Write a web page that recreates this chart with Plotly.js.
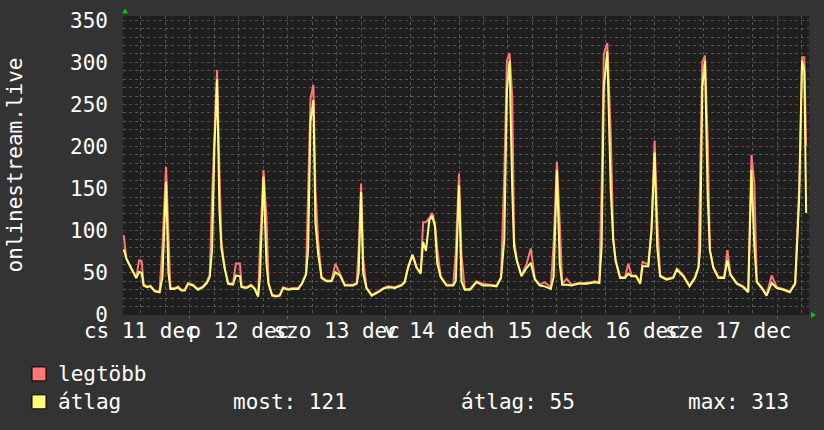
<!DOCTYPE html>
<html>
<head>
<meta charset="utf-8">
<script src="https://cdn.plot.ly/plotly-3.0.1.min.js"></script>
<style>
  html, body { margin: 0; padding: 0; background: #333333; }
  #chart { width: 824px; height: 430px; }
</style>
</head>
<body>
<div id="chart"></div>
<script>
// Hours since 11 Dec 00:00
var hours = [
  7.8, 8.46, 9.27, 10.1, 10.9, 11.55, 12.2, 12.7, 13.5, 14.35,
  15.4, 16.6, 17.3, 18.18, 18.76, 19.25, 20.3, 21.1, 21.95, 22.76,
  23.57, 24.8, 26.0, 27.25, 28.2, 28.9, 29.46, 30.05, 30.69, 31.27,
  31.76, 32.57, 33.4, 34.6, 35.3, 36.3, 36.7, 37.9, 39.0, 39.9,
  40.75, 41.2, 42.07, 42.8, 43.3, 44.2, 45.25, 46.06, 46.9, 48.1,
  49.3, 50.6, 51.5, 52.5, 53.0, 53.6, 54.3, 54.8, 55.46, 56.3,
  57.5, 58.75, 59.7, 60.8, 62.0, 63.2, 64.0, 64.9, 65.4, 66.0,
  66.5, 67.3, 68.6, 70.2, 71.4, 72.6, 74.3, 75.9, 76.7, 77.5,
  78.6, 79.6, 80.6, 81.2, 81.9, 82.7, 83.4, 84.1, 84.65, 85.5,
  86.95, 88.6, 89.2, 90.0, 90.6, 91.4, 92.7, 94.3, 95.9, 97.6,
  99.2, 100.3, 101.1, 101.75, 102.4, 103.05, 103.5, 104.2, 105.3, 106.6,
  107.6, 108.6, 109.8, 111.0, 112.5, 113.2, 114.0, 114.7, 115.3, 116.4,
  117.6, 119.2, 121.3, 123.3, 124.4, 124.97, 125.5, 126.35, 127.2, 127.8,
  128.4, 129.5, 130.7, 131.5, 132.3, 133.4, 134.4, 135.0, 136.4, 137.2,
  137.95, 138.6, 139.3, 140.9, 142.5, 143.4, 145.0, 146.5, 147.85, 148.7,
  149.1, 149.65, 150.3, 150.97, 151.5, 152.35, 153.6, 155.0, 155.8, 156.5,
  158.1, 159.7, 160.9, 161.7, 162.4, 163.0, 164.2, 165.4, 166.65, 167.9,
  169.5, 171.1, 172.4, 172.85, 173.4, 174.1, 174.65, 175.1
];

var legtobb = [
  95, 67, 59, 51, 44, 65, 64, 36, 34, 35,
  29, 28, 81, 176, 85, 32, 32, 34, 30, 30,
  38, 36, 31, 34, 40, 48, 140, 210, 291, 170,
  87, 55, 38, 37, 61, 61, 34, 33, 36, 32,
  22, 79, 172, 116, 38, 24, 23, 24, 33, 31,
  32, 32, 38, 49, 136, 257, 273, 148, 89, 45,
  41, 41, 61, 48, 36, 36, 36, 38, 77, 156,
  67, 33, 24, 28, 32, 34, 33, 36, 40, 57,
  72, 57, 50, 110, 110, 115, 121, 109, 79, 46,
  36, 36, 73, 168, 72, 31, 31, 40, 37, 36,
  35, 45, 164, 302, 311, 259, 89, 65, 47, 61,
  79, 43, 36, 39, 33, 85, 182, 109, 37, 43,
  36, 38, 38, 40, 39, 152, 310, 323, 215, 93,
  65, 45, 45, 61, 47, 47, 38, 63, 60, 105,
  207, 112, 47, 43, 45, 55, 47, 35, 45, 57,
  146, 300, 308, 207, 77, 57, 45, 45, 77, 49,
  38, 34, 28, 190, 156, 40, 33, 24, 47, 33,
  31, 28, 38, 82, 152, 306, 306, 201
];

var atlag = [
  78, 67, 59, 51, 44, 51, 50, 35, 33, 34,
  28, 27, 45, 158, 50, 31, 31, 33, 29, 29,
  37, 35, 30, 33, 38, 45, 77, 200, 280, 124,
  79, 55, 37, 36, 47, 46, 33, 32, 35, 31,
  22, 45, 164, 61, 37, 23, 22, 23, 32, 30,
  31, 31, 37, 48, 77, 230, 255, 110, 73, 44,
  40, 40, 51, 47, 35, 35, 35, 37, 50, 146,
  50, 32, 23, 27, 31, 33, 32, 35, 39, 56,
  71, 56, 49, 87, 76, 112, 118, 105, 62, 45,
  35, 35, 40, 154, 40, 30, 30, 39, 35, 35,
  34, 44, 89, 267, 302, 148, 81, 64, 46, 56,
  62, 42, 35, 34, 31, 45, 172, 60, 36, 36,
  35, 37, 37, 39, 38, 81, 270, 313, 148, 89,
  64, 44, 44, 49, 46, 46, 37, 58, 58, 100,
  193, 80, 46, 42, 44, 54, 46, 34, 44, 56,
  77, 270, 302, 140, 77, 56, 44, 44, 65, 48,
  37, 33, 27, 172, 81, 39, 32, 23, 38, 32,
  30, 27, 37, 80, 140, 302, 290, 121
];

// Day labels (centred at noon of each day)
var dayLabelHours = [12, 36, 60, 84, 108, 132, 156];
var dayLabels = ["cs 11 dec", "p 12 dec", "szo 13 dec", "v 14 dec", "h 15 dec", "k 16 dec", "sze 17 dec"];

var seriesNames = ["legtöbb", "átlag"];
var seriesColors = ["#ff7777", "#ffff77"];
var statLabels = ["most:", "átlag:", "max:"];
var statValues = [121, 55, 313];
var yTitle = "onlinestream.live";

// ---- layout geometry (pixels) ----
var W = 824, H = 430;
var L = 123, R = 15, T = 15.5, B = 115;
var pw = W - L - R, ph = H - T - B;
function px(x) { return (x - L) / pw; }
function py(y) { return (H - B - y) / ph; }
var xr = [7.63, 175.8];

var FONT = "DejaVu Sans Mono, monospace";
var FS = 21;

var traces = [
  { x: hours, y: legtobb, type: "scatter", mode: "lines", name: seriesNames[0],
    line: { color: seriesColors[0], width: 2 }, xaxis: "x", yaxis: "y", hoverinfo: "skip" },
  { x: hours, y: atlag, type: "scatter", mode: "lines", name: seriesNames[1],
    line: { color: seriesColors[1], width: 2 }, xaxis: "x2", yaxis: "y", hoverinfo: "skip" }
];

var annotations = [
  { xref: "paper", yref: "paper", x: px(14), y: 0.5, text: yTitle, textangle: -90,
    showarrow: false, xanchor: "center", yanchor: "middle",
    font: { family: FONT, size: FS, color: "#ffffff" } },
  { xref: "paper", yref: "paper", x: px(56), y: py(374), text: seriesNames[0],
    showarrow: false, xanchor: "left", yanchor: "middle",
    font: { family: FONT, size: FS, color: "#ffffff" } },
  { xref: "paper", yref: "paper", x: px(56), y: py(402), text: seriesNames[1],
    showarrow: false, xanchor: "left", yanchor: "middle",
    font: { family: FONT, size: FS, color: "#ffffff" } }
];
var statX = [231, 459, 686];
for (var i = 0; i < statLabels.length; i++) {
  annotations.push({ xref: "paper", yref: "paper", x: px(statX[i]), y: py(402),
    text: statLabels[i] + " " + statValues[i], showarrow: false, xanchor: "left", yanchor: "middle",
    font: { family: FONT, size: FS, color: "#ffffff" } });
}

var shapes = [
  { type: "rect", xref: "paper", yref: "paper", x0: px(32), x1: px(46), y0: py(381), y1: py(367),
    fillcolor: seriesColors[0], line: { color: "#000000", width: 1 } },
  { type: "rect", xref: "paper", yref: "paper", x0: px(32), x1: px(46), y0: py(409), y1: py(395),
    fillcolor: seriesColors[1], line: { color: "#000000", width: 1 } },
  // green arrow heads (rrdtool style)
  { type: "path", xref: "paper", yref: "paper", xsizemode: "pixel", ysizemode: "pixel",
    xanchor: px(125), yanchor: py(13), path: "M -3 0 L 3 0 L 0 5 Z",
    fillcolor: "#00cc00", line: { width: 0 } },
  { type: "path", xref: "paper", yref: "paper", xsizemode: "pixel", ysizemode: "pixel",
    xanchor: px(811), yanchor: py(315), path: "M 0 -3 L 0 3 L 5 0 Z",
    fillcolor: "#00cc00", line: { width: 0 } }
];

var layout = {
  width: W, height: H,
  paper_bgcolor: "#333333", plot_bgcolor: "#1f1f1f",
  margin: { l: L, r: R, t: T, b: B, pad: 0 },
  font: { family: FONT, color: "#ffffff", size: FS },
  showlegend: false,
  xaxis: {
    range: xr, tickmode: "linear", tick0: 0, dtick: 24,
    showgrid: true, gridcolor: "#7a3a3a", griddash: "dot", gridwidth: 1,
    showticklabels: false, ticks: "outside", ticklen: 3, tickcolor: "#c04040", tickwidth: 1,
    zeroline: false, showline: false, fixedrange: true,
    minor: { tick0: 0, dtick: 6, showgrid: true, gridcolor: "#555555", griddash: "dot", gridwidth: 1, ticks: "" }
  },
  xaxis2: {
    overlaying: "x", anchor: "y", side: "bottom", range: xr,
    tickmode: "array", tickvals: dayLabelHours, ticktext: dayLabels, tickangle: 0,
    showgrid: false, zeroline: false, showline: false, ticks: "",
    ticklabelstandoff: 1,
    tickfont: { family: FONT, size: FS, color: "#ffffff" }, fixedrange: true
  },
  yaxis: {
    range: [0, 355], tickmode: "linear", tick0: 0, dtick: 50,
    showgrid: true, gridcolor: "#7a3a3a", griddash: "dot", gridwidth: 1,
    zeroline: false, showline: false, ticks: "", ticklabelstandoff: 14,
    tickfont: { family: FONT, size: FS, color: "#ffffff" }, fixedrange: true,
    minor: { tick0: 0, dtick: 10, showgrid: true, gridcolor: "#555555", griddash: "dot", gridwidth: 1, ticks: "" }
  },
  annotations: annotations,
  shapes: shapes
};

Plotly.newPlot("chart", traces, layout, { staticPlot: true, displayModeBar: false });
</script>
</body>
</html>
